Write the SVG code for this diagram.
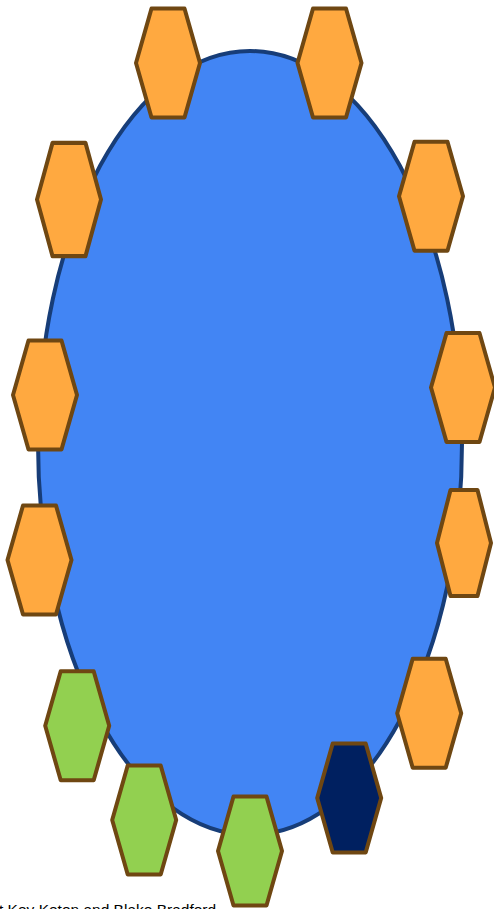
<svg xmlns="http://www.w3.org/2000/svg" xmlns:xlink="http://www.w3.org/1999/xlink" width="494" height="909" viewBox="0 0 494 909">
<style>
.hex{stroke:#6f4712;stroke-width:4;stroke-linejoin:round}
.org{fill:#ffa940}
.grn{fill:#92d050}
.nav{fill:#002060}
.lbl{font-family:"Liberation Sans",Arial,sans-serif;font-size:15.5px;fill:#000}
</style>
<defs>
<polygon id="hx" points="-16.5,-54.5 16.5,-54.5 32,0 16.5,54.5 -16.5,54.5 -32,0"/>
</defs>
<g id="connectors"></g>
<g id="center">
<ellipse cx="250" cy="443" rx="212" ry="392" fill="#4285f4" stroke="#173d78" stroke-width="4"/>
</g>
<g id="n1" class="hex org"><use xlink:href="#hx" href="#hx" transform="translate(168,63)"/></g>
<g id="n2" class="hex org"><use xlink:href="#hx" href="#hx" transform="translate(329.5,63)"/></g>
<g id="n3" class="hex org"><use xlink:href="#hx" href="#hx" transform="translate(69,199.5) scale(1,1.04)"/></g>
<g id="n4" class="hex org"><use xlink:href="#hx" href="#hx" transform="translate(431,196.3)"/></g>
<g id="n5" class="hex org"><use xlink:href="#hx" href="#hx" transform="translate(45,395)"/></g>
<g id="n6" class="hex org"><use xlink:href="#hx" href="#hx" transform="translate(463,387.5)"/></g>
<g id="n7" class="hex org"><use xlink:href="#hx" href="#hx" transform="translate(39.5,560)"/></g>
<g id="n8" class="hex org"><polygon points="450.5,490 477.5,490 491,543 477.5,596 450.5,596 437,543"/></g>
<g id="n9" class="hex org"><use xlink:href="#hx" href="#hx" transform="translate(429.2,713.3)"/></g>
<g id="n10" class="hex grn"><use xlink:href="#hx" href="#hx" transform="translate(77.2,725.8)"/></g>
<g id="n11" class="hex grn"><use xlink:href="#hx" href="#hx" transform="translate(144.2,820)"/></g>
<g id="n12" class="hex grn"><use xlink:href="#hx" href="#hx" transform="translate(250,851)"/></g>
<g id="n13" class="hex nav"><use xlink:href="#hx" href="#hx" transform="translate(349.2,798)"/></g>
<text class="lbl" x="-1" y="915">t Key Keton and Blake Bradford</text>
</svg>
